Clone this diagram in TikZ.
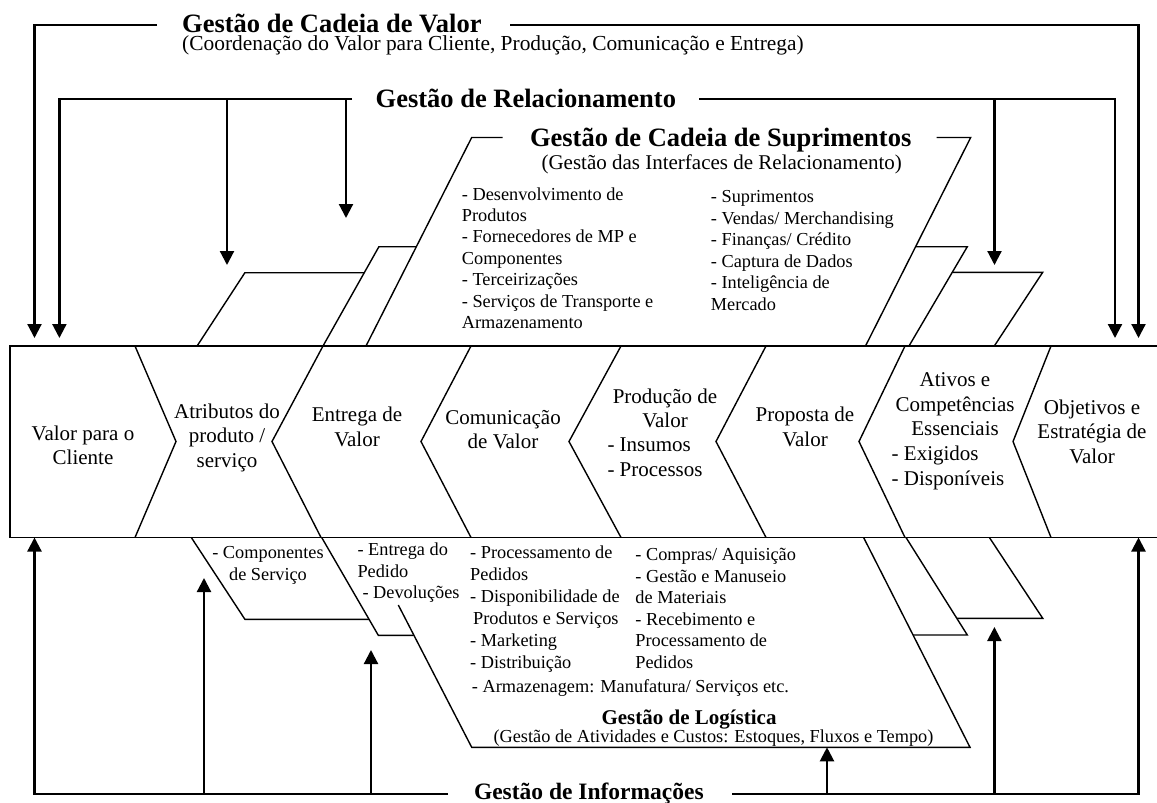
\documentclass[tikz,border=0pt]{standalone}
\usepackage{fontspec}
\setmainfont{Liberation Serif}
\usetikzlibrary{arrows.meta}
\begin{document}
\begin{tikzpicture}[x=1pt,y=-1pt,
  conn/.style={line width=2.2pt,-{Triangle[width=14pt,length=14pt]}},
  cline/.style={line width=2.2pt},
  bandline/.style={line width=1.8pt},
  shp/.style={line width=1.4pt},
  bigtitle/.style={font=\bfseries\fontsize{26.5}{30}\selectfont,inner sep=0pt},
  midtxt/.style={font=\fontsize{21}{24.5}\selectfont,inner sep=0pt,align=center},
  lefttxt/.style={font=\fontsize{21}{24.5}\selectfont,inner sep=0pt,align=left},
  listtxt/.style={font=\fontsize{18.3}{21.5}\selectfont,inner sep=0pt,align=left},
]
\useasboundingbox (0,0) rectangle (1157,803);

% ---------- main band ----------
\draw[bandline] (1157,346) -- (10.3,346) -- (10.3,537.5) -- (1157,537.5);
\draw[shp] (135,346) -- (176,441.5) -- (135,537.5);
\draw[shp] (323,346) -- (272,441.5) -- (321,537.5);
\draw[shp] (471,346) -- (421,441.5) -- (471,537.5);
\draw[shp] (621,346) -- (569,441.5) -- (621,537.5);
\draw[shp] (766,346) -- (716,441.5) -- (766,537.5);
\draw[shp] (905,346) -- (859,441.5) -- (905,537.5);
\draw[shp] (1051,346) -- (1013,441.5) -- (1051,537.5);

% (multi-line nodes: base anchor = baseline of the last line)
\node[midtxt,anchor=base] (cliente) at (83,464.5) {Valor para o\\Cliente};
\node[midtxt,anchor=base] (atrib) at (227,467.4) {Atributos do\\produto /\\serviço};
\node[midtxt,anchor=base] (entrega) at (357,446.2) {Entrega de\\Valor};
\node[midtxt,anchor=base] (comun) at (503,448.5) {Comunicação\\de Valor};
\node[midtxt,anchor=base] (prodA) at (665,427.9) {Produção de\\Valor};
\node[lefttxt,anchor=base west] (prodB) at (607.3,476.2) {- Insumos\\- Processos};
\node[midtxt,anchor=base] (proposta) at (805,446.2) {Proposta de\\Valor};
\node[midtxt,anchor=base] (ativosA) at (955,435.7) {Ativos e\\Competências\\Essenciais};
\node[lefttxt,anchor=base west] (ativosB) at (891.5,485.2) {- Exigidos\\- Disponíveis};
\node[midtxt,anchor=base] (objet) at (1092,463) {Objetivos e\\Estratégia de\\Valor};

% ---------- supply chain (top) ----------
\draw[shp] (366,346) -- (471.7,137.5) -- (502.7,137.5);
\draw[shp] (936.7,137.5) -- (970.7,137.5) -- (865.5,346);
\draw[shp] (323,346) -- (378.9,246.7) -- (416.3,246.7);
\draw[shp] (197.1,346) -- (244.9,272.7) -- (364.3,272.7);
\draw[shp] (915.6,246.7) -- (967.3,246.7) -- (909,346);
\draw[shp] (952.3,272.3) -- (1042.7,272.3) -- (994.3,346);

\node[bigtitle,anchor=base] (tscm) at (720.7,146.5) {Gestão de Cadeia de Suprimentos};
\node[midtxt,anchor=base] (sscm) at (721.7,169) {(Gestão das Interfaces de Relacionamento)};
\node[listtxt,anchor=base west,font=\fontsize{18.3}{21.45}\selectfont] (scmA) at (461.7,328.7)
  {- Desenvolvimento de\\Produtos\\- Fornecedores de MP e\\Componentes\\- Terceirizações\\- Serviços de Transporte e\\Armazenamento};
\node[listtxt,anchor=base west] (scmB) at (710.7,310.3)
  {- Suprimentos\\- Vendas/ Merchandising\\- Finanças/ Crédito\\- Captura de Dados\\- Inteligência de\\Mercado};

% ---------- logistics (bottom) ----------
\draw[shp] (398.3,605) -- (471.7,747.3) -- (970,747.3) -- (863.6,537.5);
\draw[shp] (191.3,537.5) -- (244.9,619.3) -- (369,619.3);
\draw[shp] (321.7,537.5) -- (378.3,635.3) -- (413.7,635.3);
\draw[shp] (906,537.5) -- (967.3,635) -- (913,635);
\draw[shp] (989.4,537.5) -- (1042.7,618.3) -- (956.8,618.3);

\node[listtxt,anchor=base,align=center] (compserv) at (268,580.3) {- Componentes\\de Serviço};
\node[listtxt,anchor=base west] (entped) at (357.3,598.5) {- Entrega do\\Pedido\\\hspace*{5pt}- Devoluções};
\node[listtxt,anchor=base west,font=\fontsize{18.3}{22}\selectfont] (logA) at (470,668.8)
  {- Processamento de\\Pedidos\\- Disponibilidade de\\\hspace*{3pt}Produtos e Serviços\\- Marketing\\- Distribuição};
\node[listtxt,anchor=base west] (logB) at (635.2,668)
  {- Compras/ Aquisição\\- Gestão e Manuseio\\de Materiais\\- Recebimento e\\Processamento de\\Pedidos};
\node[listtxt,anchor=base west] (armaz) at (471.7,692.2) {- Armazenagem: Manufatura/ Serviços etc.};
\node[font=\bfseries\fontsize{21}{24}\selectfont,inner sep=0pt,anchor=base] (tlog) at (689,724.4) {Gestão de Logística};
\node[font=\fontsize{18.3}{21.5}\selectfont,inner sep=0pt,anchor=base] (slog) at (713.5,742.2) {(Gestão de Atividades e Custos: Estoques, Fluxos e Tempo)};

% ---------- value chain management (top) ----------
\node[anchor=base west,inner sep=0pt,align=left,font=\fontsize{21.4}{18}\selectfont] (tcv) at (182,50.5)
  {{\bfseries\fontsize{26.5}{18}\selectfont Gestão de Cadeia de Valor}\\(Coordenação do Valor para Cliente, Produção, Comunicação e Entrega)};
\coordinate (cvL) at (157,25);
\coordinate (cvLc) at (34.5,25);
\coordinate (cvLt) at (34.5,338);
\coordinate (cvR) at (510,25);
\coordinate (cvRc) at (1138.5,25);
\coordinate (cvRt) at (1138.5,338);
\draw[conn] (cvL) -- (cvLc) -- (cvLt);
\draw[conn] (cvR) -- (cvRc) -- (cvRt);

% ---------- relationship management ----------
\node[bigtitle,anchor=base west] (trel) at (375.5,107) {Gestão de Relacionamento};
\coordinate (rlL) at (352,99);
\coordinate (rlLc) at (59.4,99);
\coordinate (rlLt) at (59.4,338);
\coordinate (rlB1) at (227,99);
\coordinate (rlB1t) at (227,265);
\coordinate (rlB2) at (346,99);
\coordinate (rlB2t) at (346,218);
\coordinate (rlR) at (699,99);
\coordinate (rlRc) at (1115,99);
\coordinate (rlRt) at (1115,338);
\coordinate (rlB3) at (994.5,99);
\coordinate (rlB3t) at (994.5,265);
\draw[conn] (rlL) -- (rlLc) -- (rlLt);
\draw[conn] (rlB1) -- (rlB1t);
\draw[conn] (rlB2) -- (rlB2t);
\draw[conn] (rlR) -- (rlRc) -- (rlRt);
\draw[conn] (rlB3) -- (rlB3t);

% ---------- information management ----------
\node[font=\bfseries\fontsize{23.5}{27}\selectfont,inner sep=0pt,anchor=base west] (tinf) at (473.8,799) {Gestão de Informações};
\coordinate (inL) at (448,794);
\coordinate (inLc) at (34.5,794);
\coordinate (inLt) at (34.5,537.5);
\coordinate (inB1) at (204,794);
\coordinate (inB1t) at (204,578);
\coordinate (inB2) at (371,794);
\coordinate (inB2t) at (371,650);
\coordinate (inR) at (732,794);
\coordinate (inRc) at (1138.5,794);
\coordinate (inRt) at (1138.5,537.5);
\coordinate (inB3) at (827,794);
\coordinate (inB3t) at (827,747.3);
\coordinate (inB4) at (994.4,794);
\coordinate (inB4t) at (994.4,627);
\draw[conn] (inL) -- (inLc) -- (inLt);
\draw[conn] (inB1) -- (inB1t);
\draw[conn] (inB2) -- (inB2t);
\draw[conn] (inR) -- (inRc) -- (inRt);
\draw[conn] (inB3) -- (inB3t);
\draw[conn] (inB4) -- (inB4t);
\end{tikzpicture}
\end{document}
